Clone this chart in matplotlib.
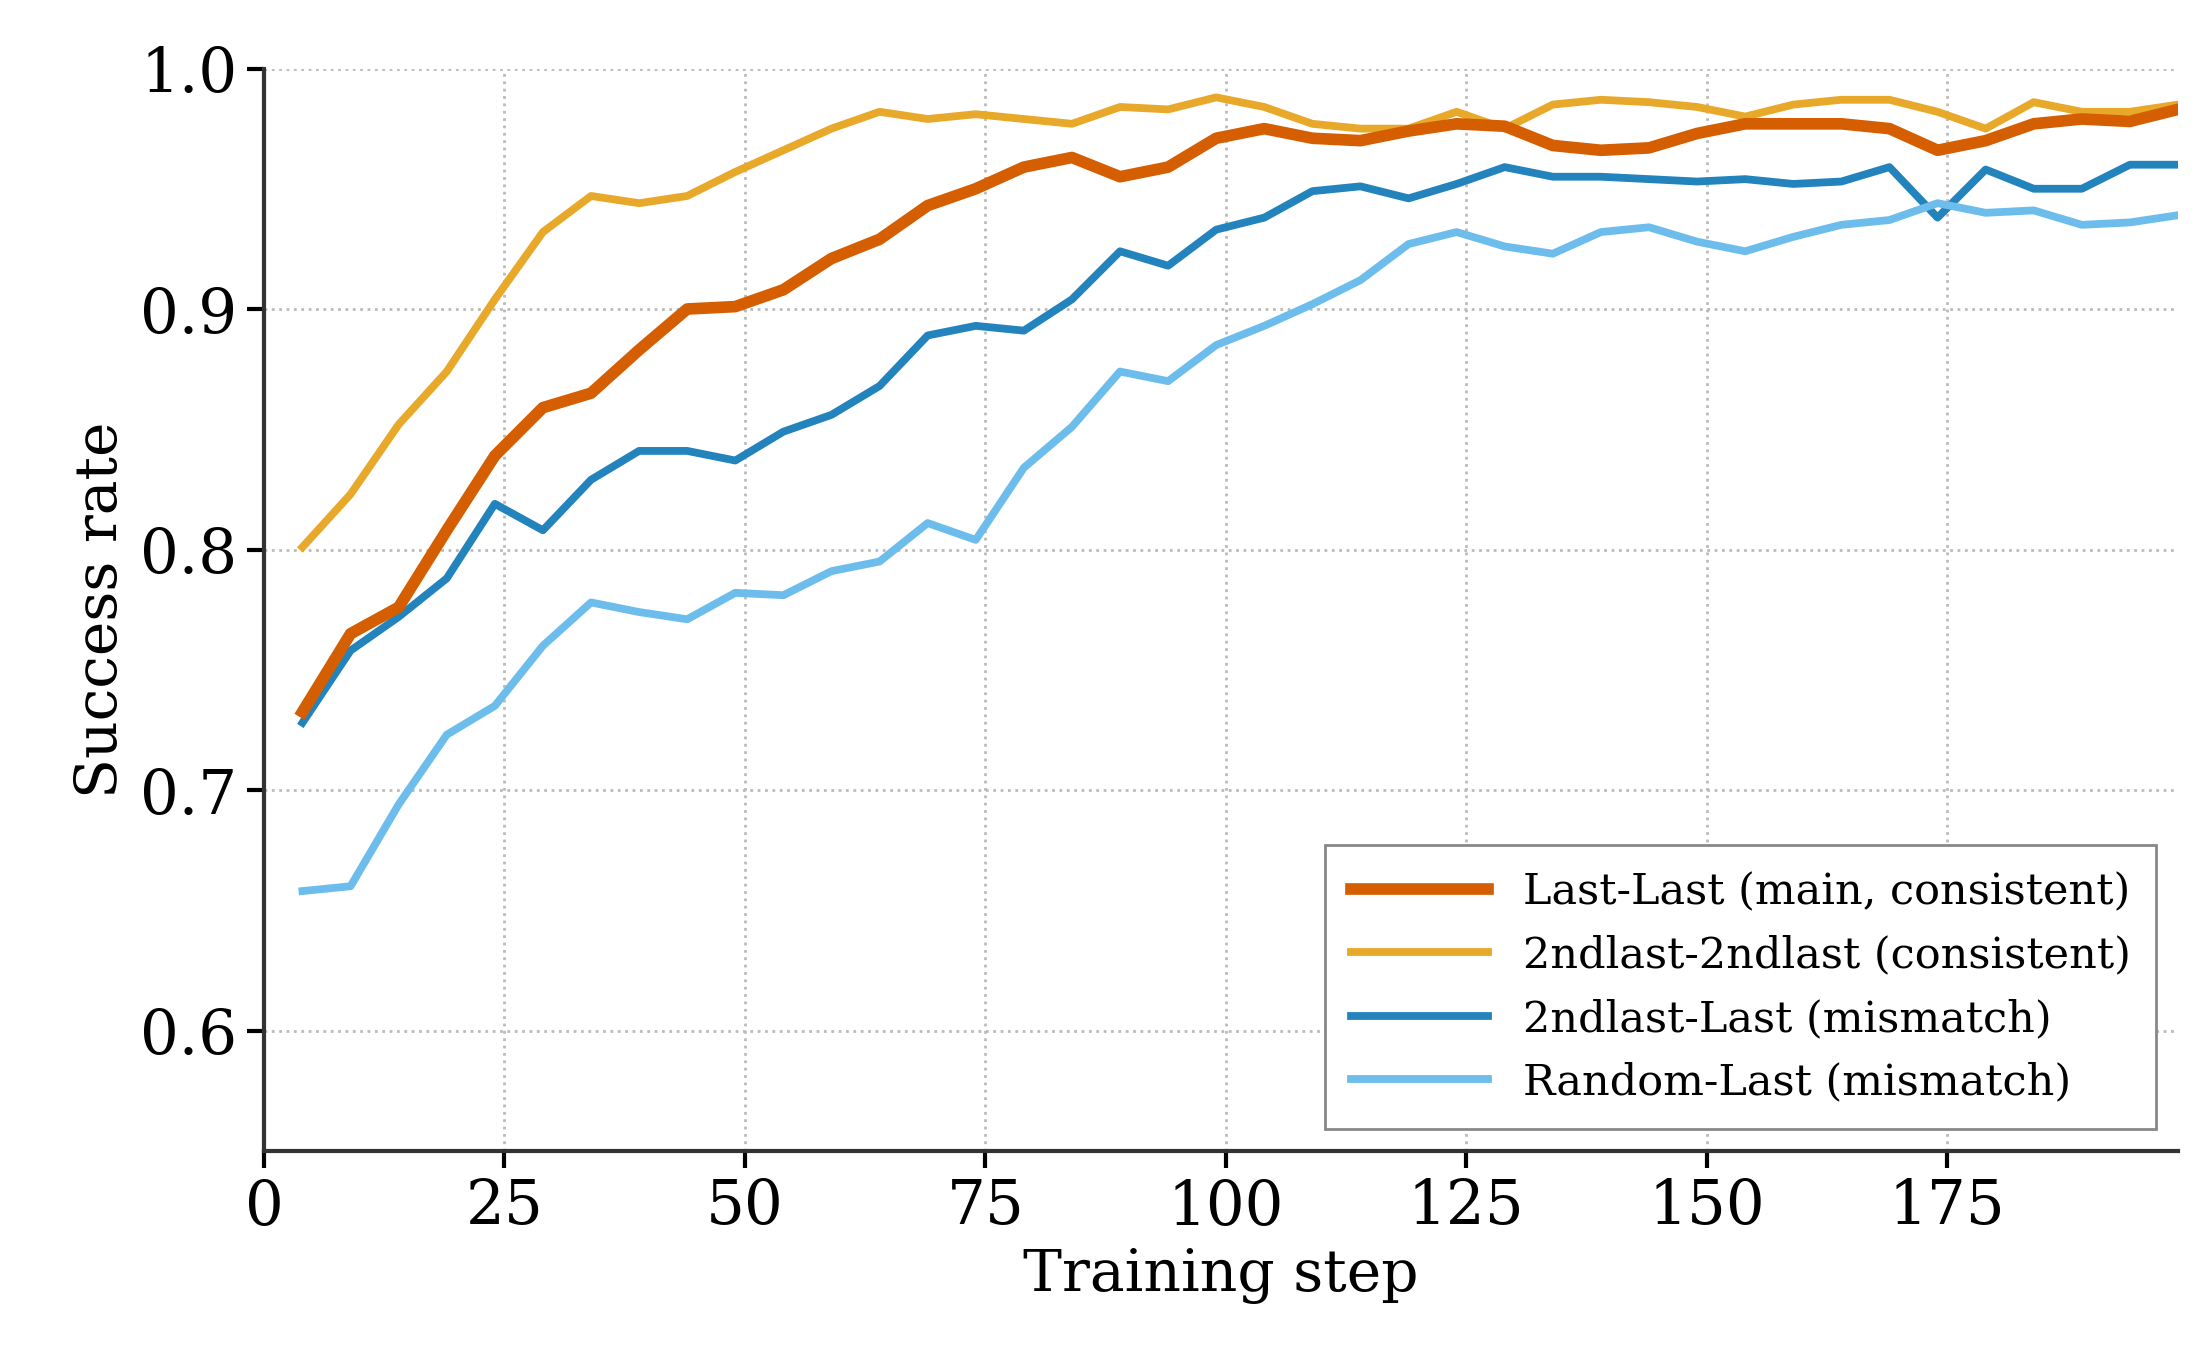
import numpy as np
import matplotlib.pyplot as plt

plt.rcParams['font.family'] = 'DejaVu Serif'

steps = np.arange(4, 200, 5)

last_last = [0.7325, 0.765, 0.776, 0.808, 0.839, 0.859, 0.865, 0.883, 0.900, 0.901,
             0.908, 0.921, 0.929, 0.943, 0.950, 0.959, 0.963, 0.955, 0.959, 0.971,
             0.975, 0.971, 0.970, 0.974, 0.977, 0.976, 0.968, 0.966, 0.967, 0.973,
             0.977, 0.977, 0.977, 0.975, 0.966, 0.970, 0.977, 0.979, 0.978, 0.983]
second_second = [0.801, 0.823, 0.852, 0.874, 0.904, 0.932, 0.947, 0.944, 0.947, 0.957,
                 0.966, 0.975, 0.982, 0.979, 0.981, 0.979, 0.977, 0.984, 0.983, 0.988,
                 0.984, 0.977, 0.975, 0.975, 0.982, 0.975, 0.985, 0.987, 0.986, 0.984,
                 0.980, 0.985, 0.987, 0.987, 0.982, 0.975, 0.986, 0.982, 0.982, 0.985]
second_last = [0.728, 0.758, 0.772, 0.788, 0.819, 0.808, 0.829, 0.841, 0.841, 0.837,
               0.849, 0.856, 0.868, 0.889, 0.893, 0.891, 0.904, 0.924, 0.918, 0.933,
               0.938, 0.949, 0.951, 0.946, 0.952, 0.959, 0.955, 0.955, 0.954, 0.953,
               0.954, 0.952, 0.953, 0.959, 0.938, 0.958, 0.950, 0.950, 0.960, 0.960]
random_last = [0.658, 0.660, 0.694, 0.723, 0.735, 0.760, 0.778, 0.774, 0.771, 0.782,
               0.781, 0.791, 0.795, 0.811, 0.804, 0.834, 0.851, 0.874, 0.870, 0.885,
               0.893, 0.902, 0.912, 0.927, 0.932, 0.926, 0.923, 0.932, 0.934, 0.928,
               0.924, 0.930, 0.935, 0.937, 0.944, 0.940, 0.941, 0.935, 0.936, 0.939]

fig, ax = plt.subplots(figsize=(11, 6.85), dpi=200)

ax.plot(steps, last_last, color='#D55E00', lw=4.2, label='Last-Last (main, consistent)', zorder=5)
ax.plot(steps, second_second, color='#E8A82A', lw=2.8, label='2ndlast-2ndlast (consistent)')
ax.plot(steps, second_last, color='#2383BD', lw=2.8, label='2ndlast-Last (mismatch)')
ax.plot(steps, random_last, color='#6DBDEC', lw=2.8, label='Random-Last (mismatch)')

ax.set_xlim(0, 199)
ax.set_ylim(0.55, 1.0)
ax.set_xticks([0, 25, 50, 75, 100, 125, 150, 175])
ax.set_yticks([0.6, 0.7, 0.8, 0.9, 1.0])
ax.grid(True, linestyle=':', color='#bbbbbb', lw=1)

ax.set_xlabel('Training step', fontsize=21)
ax.set_ylabel('Success rate', fontsize=21)
ax.tick_params('both', labelsize=22, width=1.5, length=6)
for s in ['top', 'right']:
    ax.spines[s].set_visible(False)
for s in ['left', 'bottom']:
    ax.spines[s].set_linewidth(1.5)
    ax.spines[s].set_color('#333333')

leg = ax.legend(loc='lower right', fontsize=15.5, fancybox=False, framealpha=1,
                borderpad=0.6, handlelength=3.2)
leg.get_frame().set_edgecolor('#888888')

fig.subplots_adjust(left=0.12, right=0.99, top=0.95, bottom=0.16)
fig.savefig('out.png')
